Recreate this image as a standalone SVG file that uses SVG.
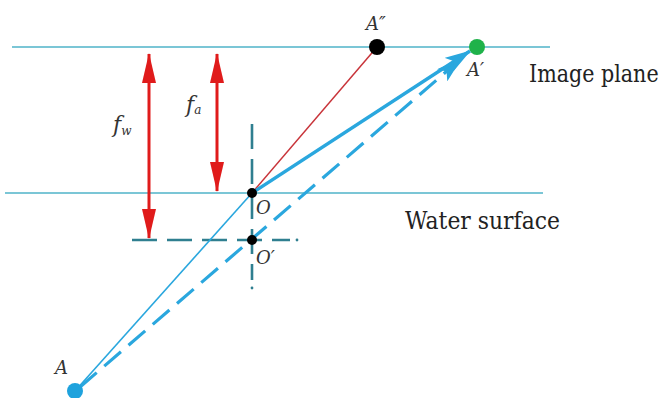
<svg xmlns="http://www.w3.org/2000/svg" width="667" height="398" viewBox="0 0 667 398">
<style>
.plane{stroke:#4fb3c8;stroke-width:1.6;fill:none}
.axis{stroke:#2f7f90;stroke-width:2.6;fill:none;stroke-dasharray:25 10}
.red{stroke:#e01b1b;stroke-width:3;fill:none}
.ray{stroke:#2aa7de;fill:none}
.lbl{font-family:'DejaVu Serif',serif;font-style:italic;fill:#333}
.txt{font-family:'DejaVu Serif',serif;fill:#222;font-size:25px}
</style>
<defs>
<marker id="redHead" markerUnits="userSpaceOnUse" markerWidth="30" markerHeight="14" refX="29" refY="7" orient="auto-start-reverse">
<path d="M0,0 L30,7 L0,14 z" fill="#e01b1b"/>
</marker>
<marker id="blueHead" markerUnits="userSpaceOnUse" markerWidth="26" markerHeight="16" refX="25" refY="8" orient="auto">
<path d="M0,0 L26,8 L0,16 L6,8 z" fill="#2aa7de"/>
</marker>
</defs>
<g id="planes">
<line class="plane" x1="12" y1="47" x2="550" y2="47"/>
<line class="plane" x1="5" y1="193" x2="543" y2="193"/>
</g>
<g id="axes">
<line class="axis" x1="252" y1="124" x2="252" y2="280"/>
<circle cx="252" cy="288" r="1.4" fill="#2f7f90"/>
<line class="axis" x1="132" y1="240" x2="290" y2="240"/>
<circle cx="297" cy="240" r="1.4" fill="#2f7f90"/>
</g>
<g id="connectors">
<line class="red" x1="149" y1="54" x2="149" y2="238" marker-start="url(#redHead)" marker-end="url(#redHead)"/>
<line class="red" x1="217" y1="54" x2="217" y2="191" marker-start="url(#redHead)" marker-end="url(#redHead)"/>
<line x1="252" y1="193" x2="377" y2="47" stroke="#c8343a" stroke-width="1.5"/>
<line class="ray" x1="75" y1="391" x2="252" y2="193" stroke-width="1.6"/>
<line class="ray" x1="80" y1="387" x2="461" y2="59" stroke-width="3.2" stroke-dasharray="22 10" marker-end="url(#blueHead)"/>
<line class="ray" x1="252" y1="193" x2="470" y2="51" stroke-width="3.4" marker-end="url(#blueHead)"/>
</g>
<g id="node-O"><circle cx="252" cy="193" r="5" fill="#000"/><text class="lbl" x="256" y="214" font-size="18">O</text></g>
<g id="node-O2"><circle cx="252" cy="240" r="5" fill="#000"/><text class="lbl" x="256" y="264" font-size="18">O′</text></g>
<g id="node-A2"><circle cx="377" cy="47" r="8" fill="#000"/><text class="lbl" x="366" y="30" font-size="18">A″</text></g>
<g id="node-A1"><circle cx="477" cy="47" r="8" fill="#1fb24a"/><text class="lbl" x="467" y="76" font-size="18">A′</text></g>
<g id="node-A"><circle cx="75" cy="391" r="8" fill="#1ea2dd"/><text class="lbl" x="55" y="374" font-size="18">A</text></g>
<g id="labels">
<text class="lbl" x="113" y="132" font-size="22">f<tspan font-size="12" dy="3">w</tspan></text>
<text class="lbl" x="186" y="112" font-size="22">f<tspan font-size="12" dy="2">a</tspan></text>
<text class="txt" transform="translate(529,82) scale(0.8,1)" x="0" y="0" textLength="162" lengthAdjust="spacingAndGlyphs">Image plane</text>
<text class="txt" transform="translate(405,229) scale(0.88,1)" x="0" y="0" textLength="176" lengthAdjust="spacingAndGlyphs">Water surface</text>
</g>
</svg>
